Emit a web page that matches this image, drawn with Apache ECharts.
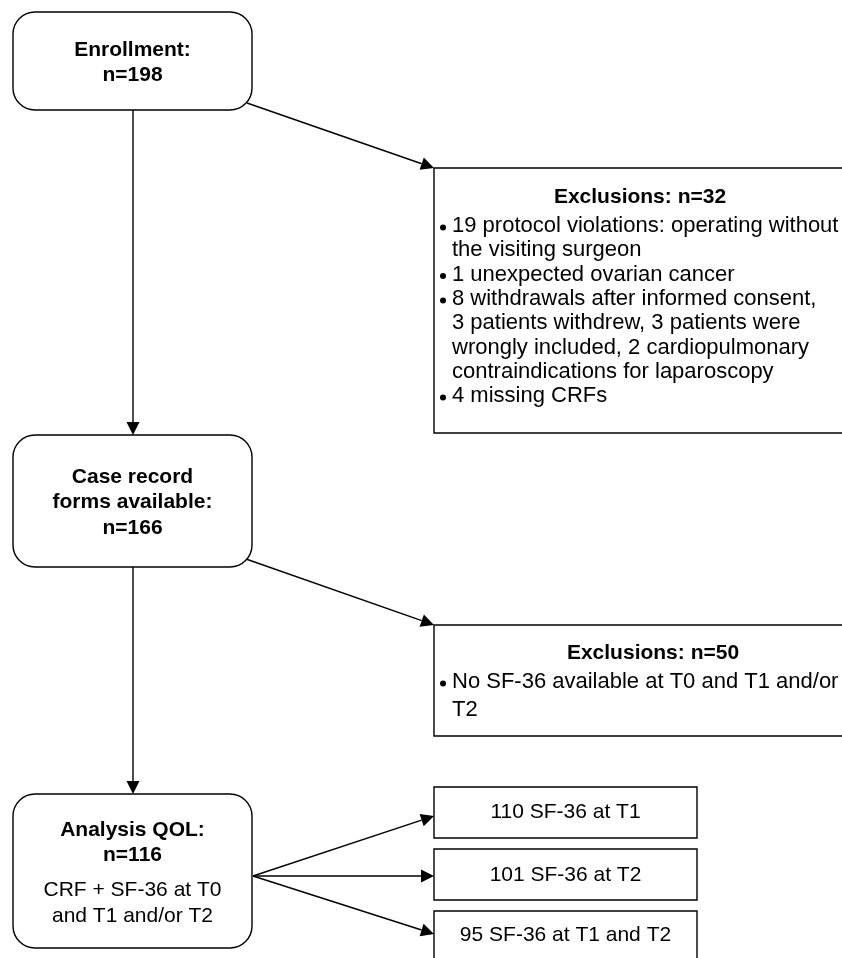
<!DOCTYPE html>
<html>
<head>
<meta charset="utf-8">
<script src="https://cdn.jsdelivr.net/npm/echarts@6/dist/echarts.min.js"></script>
<style>
  html, body { margin: 0; padding: 0; background: #fff; }
  #chart { width: 842px; height: 958px; }
</style>
</head>
<body>
<div id="chart"></div>
<script>
// ---- Data ----
const stageTitles = [['Enrollment:'], ['Case record', 'forms available:'], ['Analysis QOL:']];
const stageCounts = [198, 166, 116];
const stageNotes = [[], [], ['CRF + SF-36 at T0', 'and T1 and/or T2']];
const exclusionCounts = [32, 50];
const exclusionReasons = [
  [
    ['19 protocol violations: operating without', 'the visiting surgeon'],
    ['1 unexpected ovarian cancer'],
    ['8 withdrawals after informed consent,', '3 patients withdrew, 3 patients were', 'wrongly included, 2 cardiopulmonary', 'contraindications for laparoscopy'],
    ['4 missing CRFs']
  ],
  [
    ['No SF-36 available at T0 and T1 and/or', 'T2']
  ]
];
const followupCounts = [110, 101, 95];
const followupLabels = ['SF-36 at T1', 'SF-36 at T2', 'SF-36 at T1 and T2'];

// ---- Layout (positions & styles only) ----
const FONT = 'Liberation Sans, Arial, Helvetica, sans-serif';
const FS = 21;
const FS_BULLET = 22;
const LINE_W = 1.4;
const stageBoxes = [
  { x: 13, y: 12, w: 239, h: 98, lineY: [50, 75] },
  { x: 13, y: 435, w: 239, h: 132, lineY: [477, 502, 528] },
  { x: 13, y: 794, w: 239, h: 154, lineY: [830, 855, 890, 916] }
];
const exclBoxes = [
  { x: 434, y: 168, w: 420, h: 265, titleX: 640, titleY: 197, firstY: 226, step: 24.3 },
  { x: 434, y: 625, w: 420, h: 111, titleX: 653, titleY: 653, firstY: 682, step: 28 }
];
const followBoxes = [
  { x: 434, y: 787, w: 263, h: 51, ty: 812 },
  { x: 434, y: 849, w: 263, h: 51, ty: 875 },
  { x: 434, y: 911, w: 263, h: 60, ty: 935 }
];
const arrows = [
  [[133, 110], [133, 435]],
  [[247, 103], [434, 168]],
  [[133, 567], [133, 794]],
  [[246, 559], [434, 625]],
  [[253, 876], [434, 816]],
  [[253, 876], [434, 876]],
  [[253, 876], [434, 934]]
];

const els = [];
function text(t, x, y, bold, align, size) {
  els.push({
    type: 'text', z: 10,
    style: {
      text: t, x: x, y: y, fill: '#000',
      font: (bold ? 'bold ' : '') + (size || FS) + 'px ' + FONT,
      align: align || 'center', verticalAlign: 'middle'
    }
  });
}
function rect(b, r) {
  els.push({
    type: 'rect', z: 5,
    shape: { x: b.x, y: b.y, width: b.w, height: b.h, r: r || 0 },
    style: { fill: '#fff', stroke: '#000', lineWidth: LINE_W }
  });
}
function arrow(p0, p1) {
  const dx = p1[0] - p0[0], dy = p1[1] - p0[1];
  const len = Math.sqrt(dx * dx + dy * dy);
  const ux = dx / len, uy = dy / len;
  const L = 13, W = 6.5;
  const bx = p1[0] - ux * L, by = p1[1] - uy * L;
  els.push({
    type: 'line', z: 3,
    shape: { x1: p0[0], y1: p0[1], x2: bx, y2: by },
    style: { stroke: '#000', lineWidth: LINE_W }
  });
  els.push({
    type: 'polygon', z: 8,
    shape: { points: [[p1[0], p1[1]], [bx - uy * W, by + ux * W], [bx + uy * W, by - ux * W]] },
    style: { fill: '#000' }
  });
}

arrows.forEach(a => arrow(a[0], a[1]));

stageBoxes.forEach((b, i) => {
  rect(b, 22);
  const cx = b.x + b.w / 2;
  const lines = [];
  stageTitles[i].forEach(t => lines.push([t, true]));
  lines.push(['n=' + stageCounts[i], true]);
  stageNotes[i].forEach(t => lines.push([t, false]));
  lines.forEach((l, k) => text(l[0], cx, b.lineY[k], l[1]));
});

exclBoxes.forEach((b, i) => {
  rect(b, 0);
  text('Exclusions: n=' + exclusionCounts[i], b.titleX, b.titleY, true);
  let y = b.firstY;
  exclusionReasons[i].forEach(item => {
    els.push({ type: 'circle', z: 10, shape: { cx: 443, cy: y + 1.5, r: 3 }, style: { fill: '#000' } });
    item.forEach(line => { text(line, 452, y, false, 'left', FS_BULLET); y += b.step; });
  });
});

followBoxes.forEach((b, i) => {
  rect(b, 0);
  text(followupCounts[i] + ' ' + followupLabels[i], b.x + b.w / 2, b.ty, false);
});

const chart = echarts.init(document.getElementById('chart'), null, { renderer: 'canvas' });
chart.setOption({
  backgroundColor: '#fff',
  animation: false,
  graphic: { elements: els }
});
</script>
</body>
</html>
